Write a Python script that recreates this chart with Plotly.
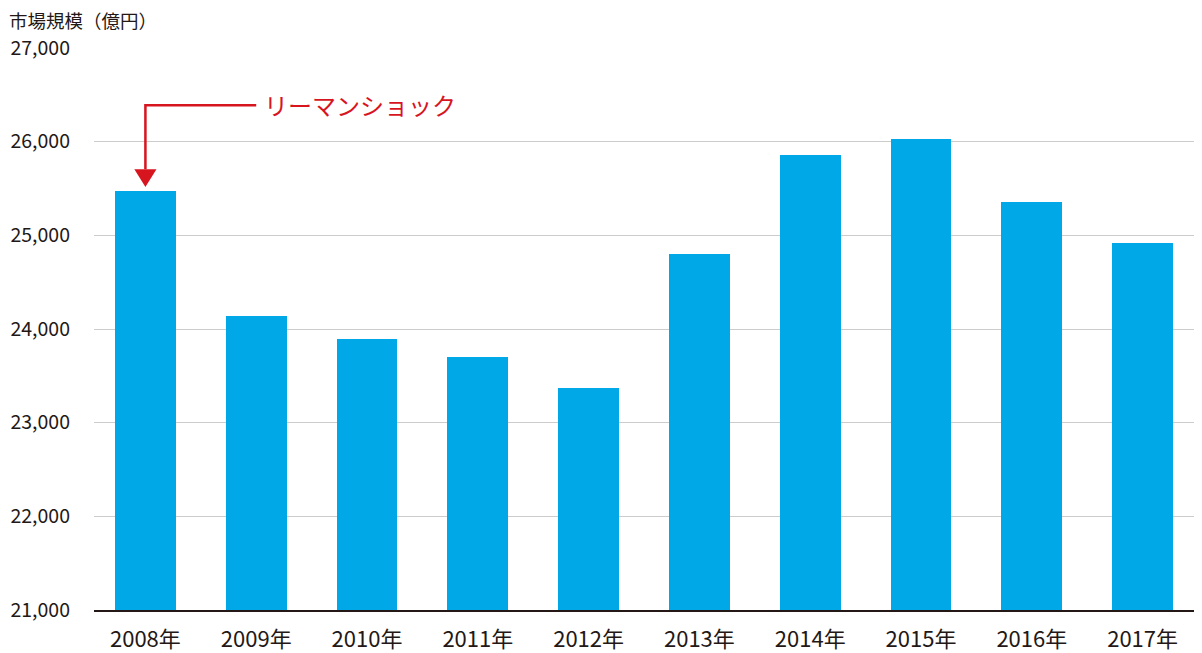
import plotly.graph_objects as go

years = ["2008年", "2009年", "2010年", "2011年", "2012年", "2013年", "2014年", "2015年", "2016年", "2017年"]
market_size = [25470, 24135, 23890, 23705, 23375, 24800, 25855, 26025, 25355, 24915]
y_ticks = [21000, 22000, 23000, 24000, 25000, 26000, 27000]
y_tick_labels = ["21,000", "22,000", "23,000", "24,000", "25,000", "26,000", "27,000"]
y_title = "市場規模（億円）"
callout_text = "リーマンショック"

BLUE = "#00a8e7"
RED = "#d7151f"
INK = "#231815"
FONT = "Noto Sans CJK JP"

xs = list(range(len(years)))

fig = go.Figure()
fig.add_trace(go.Bar(x=xs, y=market_size, marker=dict(color=BLUE, line=dict(width=0)),
                     width=0.55, hoverinfo="x+y"))

# callout: bent arrow pointing at the 2008 bar
tip_y = market_size[0] + 45
base_y = tip_y + 190
elbow_y = market_size[0] + 920
x0 = xs[0]
fig.add_shape(type="path", xref="x", yref="y",
              path=f"M {x0+1.0},{elbow_y} L {x0},{elbow_y} L {x0},{base_y}",
              line=dict(color=RED, width=2.5))
fig.add_shape(type="path", xref="x", yref="y",
              path=f"M {x0-0.1},{base_y} L {x0+0.1},{base_y} L {x0},{tip_y} Z",
              fillcolor=RED, line=dict(color=RED, width=0))
fig.add_annotation(x=x0 + 1.0, y=elbow_y, xref="x", yref="y", text=callout_text,
                   showarrow=False, xanchor="left", yanchor="middle", xshift=6, yshift=1,
                   font=dict(family=FONT, size=24, color=RED))

fig.add_annotation(x=0, y=1, xref="paper", yref="paper", text=y_title, showarrow=False,
                   xanchor="left", yanchor="middle", xshift=-87, yshift=28,
                   font=dict(family=FONT, size=18.5, color=INK))

fig.update_layout(
    width=1194, height=645,
    margin=dict(l=86, r=0, t=40, b=36),
    paper_bgcolor="white", plot_bgcolor="white",
    showlegend=False, bargap=0,
    font=dict(family=FONT, color=INK),
    xaxis=dict(tickmode="array", tickvals=xs, ticktext=years, range=[-0.464, 9.536],
               showgrid=False, zeroline=False, showline=True, linecolor=INK, linewidth=1.5,
               ticks="", tickfont=dict(family=FONT, size=22, color=INK), ticklabelstandoff=9),
    yaxis=dict(tickmode="array", tickvals=y_ticks, ticktext=y_tick_labels, range=[21000, 27000],
               showgrid=True, gridcolor="#cccccc", gridwidth=1, zeroline=False, showline=False,
               ticks="", tickfont=dict(family=FONT, size=19.5, color=INK), ticklabelstandoff=23),
)

fig.write_html("out.html")
